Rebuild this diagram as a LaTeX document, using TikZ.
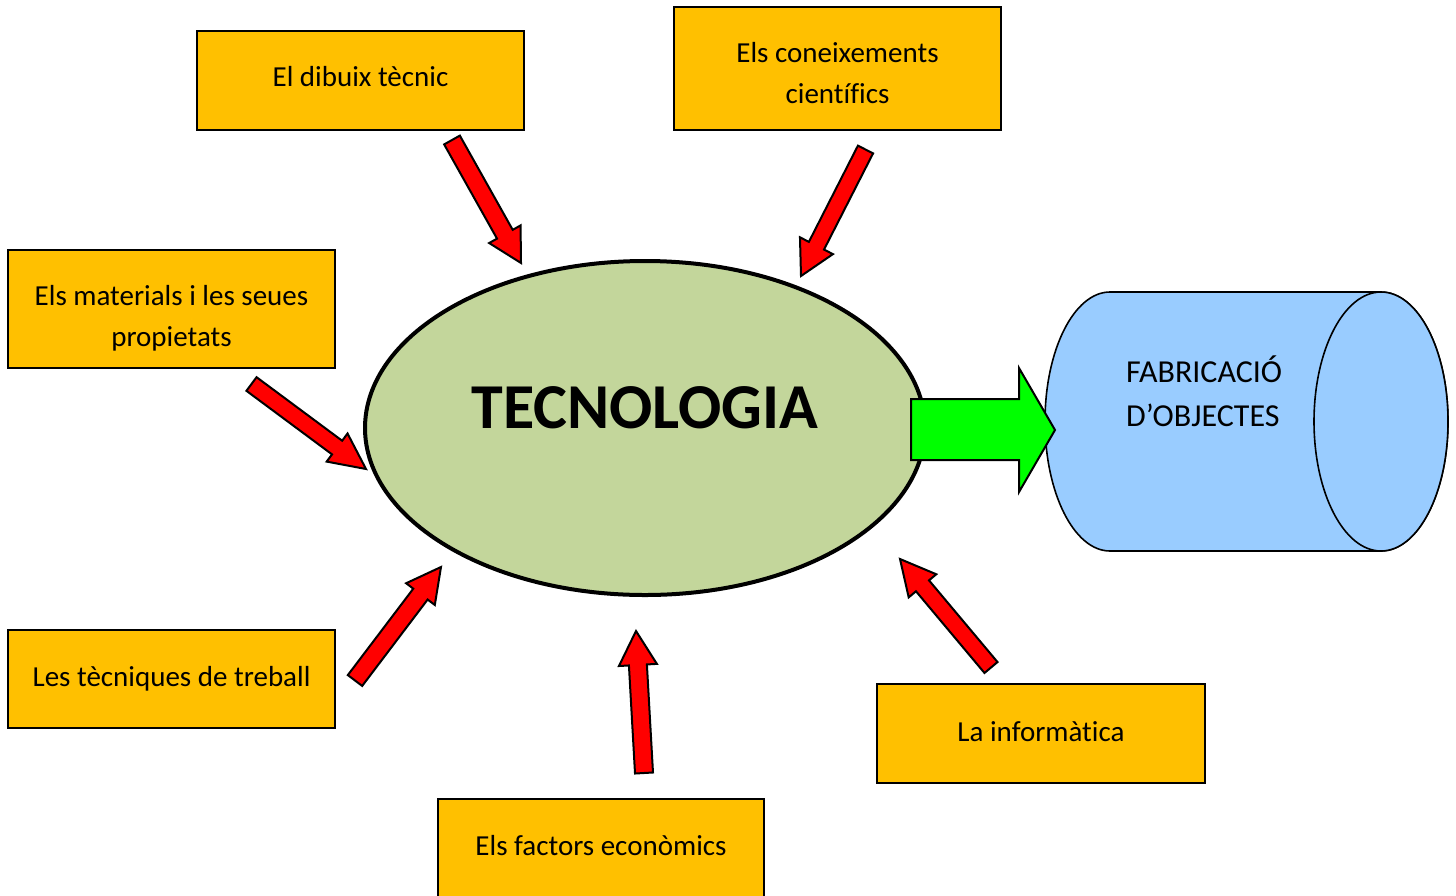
\documentclass[tikz,border=0pt]{standalone}
\usepackage{fontspec}
\setmainfont{Carlito}[Ligatures=CommonOff]
\usetikzlibrary{calc}
\definecolor{boxfill}{HTML}{FFC000}
\definecolor{ellfill}{HTML}{C3D69B}
\definecolor{cylfill}{HTML}{99CCFF}
\definecolor{grn}{HTML}{00FF00}
\definecolor{rd}{HTML}{FF0000}
\tikzset{
  box/.style={draw=black, line width=1.6pt, fill=boxfill, inner sep=0pt},
  btxt/.style={font=\fontsize{29}{41}\selectfont, align=center, inner sep=0pt},
  redarr/.style={draw=black, line width=2pt, fill=rd, line join=miter},
  grnarr/.style={draw=black, line width=2pt, fill=grn, line join=miter},
}
\newcommand{\blockarrow}[5]{%
  \coordinate (hb) at ($(#2)!#5!(#1)$);
  \draw[redarr] ($(#1)!#3!90:(#2)$) -- ($(hb)!#3!90:(#2)$) -- ($(hb)!#4!90:(#2)$)
    -- (#2) -- ($(hb)!#4!-90:(#2)$) -- ($(hb)!#3!-90:(#2)$) -- ($(#1)!#3!-90:(#2)$) -- cycle;
}
\begin{document}
\begin{tikzpicture}[x=1pt,y=-1pt]
\useasboundingbox (0,0) rectangle (1456,895);
\clip (0,0) rectangle (1456,895);
% boxes
\node[box, minimum width=327pt, minimum height=99pt] (b1) at (360.5,80.5) {};
\node[btxt] (t1) at (360.5,77) {El dibuix tècnic};
\node[box, minimum width=327pt, minimum height=123pt] (b2) at (837.5,68.5) {};
\node[btxt] (t2) at (837.5,73.5) {Els coneixements\\científics};
\node[box, minimum width=327pt, minimum height=118pt] (b3) at (171.5,309) {};
\node[btxt] (t3) at (171.5,318.5) {Els materials i les seues\\propietats};
\node[box, minimum width=327pt, minimum height=98pt] (b4) at (171.5,679) {};
\node[btxt] (t4) at (171.5,679) {Les tècniques de treball};
\node[box, minimum width=326pt, minimum height=100pt] (b5) at (601,849) {};
\node[btxt] (t5) at (601,846) {Els factors econòmics};
\node[box, minimum width=328pt, minimum height=99pt] (b6) at (1041,733.5) {};
\node[btxt] (t6) at (1041,732) {La informàtica};
% central ellipse
\draw[line width=4pt, fill=ellfill] (645,428) ellipse [x radius=280pt, y radius=167pt];
\node[font=\fontsize{64}{68}\selectfont\bfseries, inner sep=0pt] (tec) at (645,408) {TECNOLOGIA};
% cylinder
\draw[line width=1.6pt, fill=cylfill] (1110,292) -- (1381,292)
   arc[start angle=90, end angle=-90, x radius=67pt, y radius=129.5pt]
   -- (1110,551)
   arc[start angle=270, end angle=90, x radius=65pt, y radius=129.5pt] -- cycle;
\draw[line width=1.6pt, fill=cylfill] (1381,421.5) ellipse [x radius=67pt, y radius=129.5pt];
\node[font=\fontsize{32}{44}\selectfont, align=left, anchor=west, inner sep=0pt] (fab) at (1126,391) {FABRICACIÓ\\D’OBJECTES};
% green arrow
\draw[grnarr] (911,399) -- (1019,399) -- (1019,368) -- (1055,430) -- (1019,492) -- (1019,460) -- (911,460) -- cycle;
% red arrows
\coordinate (a1s) at (452,140);   \coordinate (a1e) at (521,263);
\coordinate (a2s) at (865.5,149.5); \coordinate (a2e) at (801,276);
\coordinate (a3s) at (251.5,384); \coordinate (a3e) at (366,469);
\coordinate (a4s) at (355,680.5); \coordinate (a4e) at (441,567);
\coordinate (a5s) at (644,773);   \coordinate (a5e) at (636,631);
\coordinate (a6s) at (991,667.5); \coordinate (a6e) at (900,559);
\blockarrow{a1s}{a1e}{9pt}{18pt}{33pt}
\blockarrow{a2s}{a2e}{8.5pt}{18.5pt}{34pt}
\blockarrow{a3s}{a3e}{8.5pt}{17.5pt}{36pt}
\blockarrow{a4s}{a4e}{9pt}{18pt}{34pt}
\blockarrow{a5s}{a5e}{9pt}{19pt}{34pt}
\blockarrow{a6s}{a6e}{8.5pt}{18pt}{35pt}
\end{tikzpicture}
\end{document}
